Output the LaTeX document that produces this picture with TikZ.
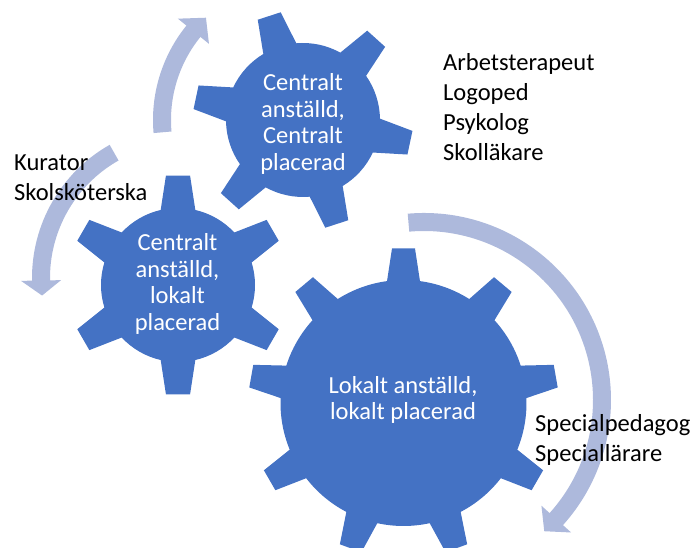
\documentclass[tikz,border=0pt]{standalone}
\usepackage{fontspec}
\setmainfont{Carlito}
\usepackage{tikz}
\definecolor{GearBlue}{RGB}{68,114,196}
\definecolor{ArrowBlue}{RGB}{173,185,220}

% gear: cx, cy, teeth, outer r, root r, first tooth angle, tip half angle, base half angle
\newcommand{\gearshape}[8]{%
  \pgfmathsetmacro{\gstep}{360/#3}
  \fill[gr, shift={(#1,#2)}] ({#6-#8}:#5)
    \foreach \k in {1,...,#3}{
      -- ({#6+(\k-1)*\gstep-#7}:#4) -- ({#6+(\k-1)*\gstep+#7}:#4) -- ({#6+(\k-1)*\gstep+#8}:#5)
      arc[start angle={#6+(\k-1)*\gstep+#8}, end angle={#6+\k*\gstep-#8}, radius=#5]
    } -- cycle;
}
% arrow: cx, cy, r, start angle, head angle, tip angle
\newcommand{\cycarrow}[6]{%
  \fill[ar, shift={(#1,#2)}] ({#4}:{#3+9}) arc[start angle=#4, end angle=#5, radius={#3+9}]
    -- ({#5}:{#3+20}) -- ({#6}:{#3}) -- ({#5}:{#3-20}) -- ({#5}:{#3-9})
    arc[start angle=#5, end angle=#4, radius={#3-9}] -- cycle;
}

\begin{document}
\begin{tikzpicture}[x=1pt, y=1pt]
	\tikzset{
		gr/.style={fill=GearBlue},
		ar/.style={fill=ArrowBlue},
		gt/.style={text=white, align=center, inner sep=0pt, font=\fontsize{24.5}{26.5}\selectfont},
		lb/.style={anchor=west, align=left, inner sep=0pt, font=\fontsize{24.5}{30}\selectfont}
	}
	\useasboundingbox (0,0) rectangle (699,548);
	
	\cycarrow{303}{428}{141}{185}{141}{133.5}
	\cycarrow{185}{270}{144}{119.5}{181}{187}
	\cycarrow{424}{148}{178}{95}{-42}{-47.5}
	
	\gearshape{303}{428}{6}{110}{77}{108}{6.3}{13}
	\gearshape{178}{263}{6}{110}{77}{90}{6.3}{13}
	\gearshape{403.5}{145}{9}{155}{123}{90}{4.25}{7.7}
	
	\node[gt] (cc) at (303,424) {Centralt\\anställd,\\Centralt\\placerad};
	\node[gt] (cl) at (177.5,264) {Centralt\\anställd,\\lokalt\\placerad};
	\node[gt] (ll) at (403,148) {Lokalt anställd,\\lokalt placerad};
	
	\node[lb] (kur) at (14,370) {Kurator\\Skolsköterska};
	\node[lb] (arb) at (443,441) {Arbetsterapeut\\Logoped\\Psykolog\\Skolläkare};
	\node[lb] (spe) at (535,108) {Specialpedagog\\Speciallärare};
\end{tikzpicture}
\end{document}
